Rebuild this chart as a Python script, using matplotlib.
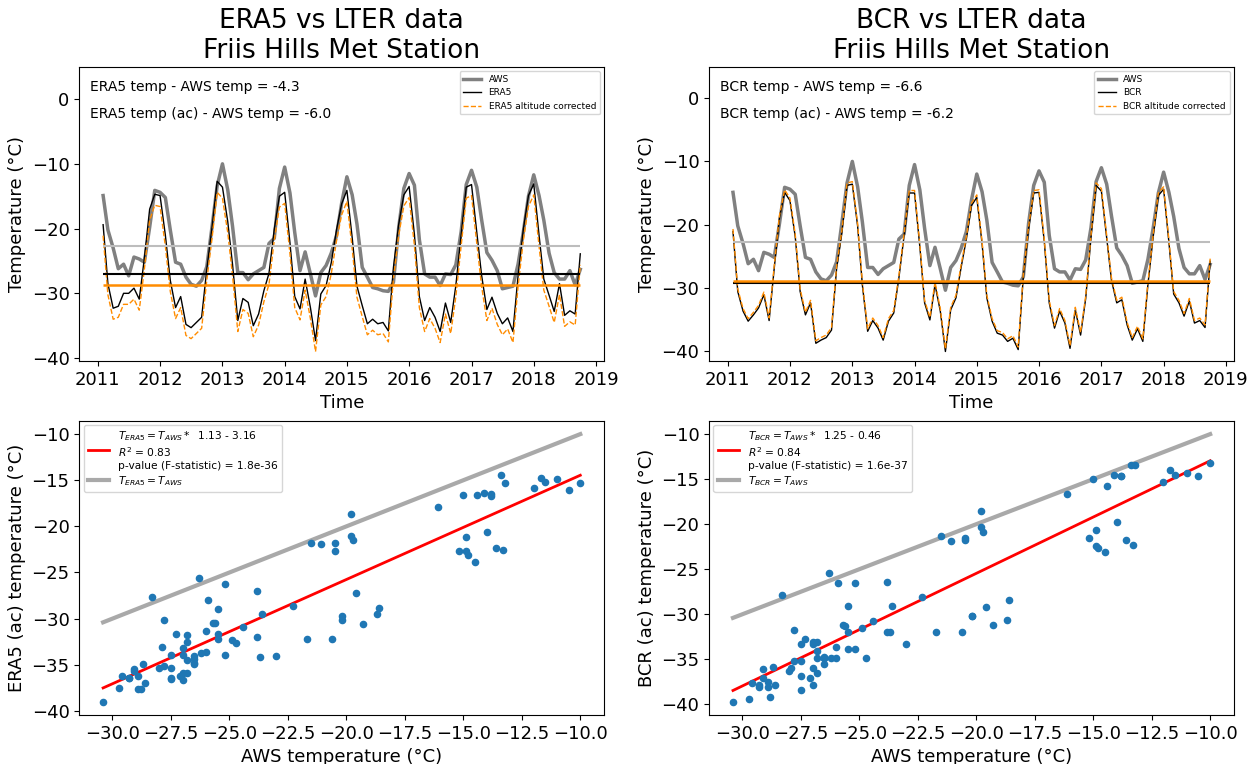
import matplotlib
matplotlib.use("Agg")
import matplotlib.pyplot as plt
import numpy as np
import pandas as pd

# monthly means, Feb 2011 - Oct 2018
dates = pd.date_range("2011-02-01", periods=93, freq="MS")

aws = [-14.9, -20.2, -23.0, -26.2, -25.5, -27.3, -24.4, -24.7, -25.2, -19.8, -14.1, -14.4,
       -15.2, -20.2, -25.2, -25.5, -27.5, -28.6, -28.9, -28.0, -25.9, -19.7, -13.4, -10.0,
       -14.0, -19.6, -26.8, -26.8, -27.9, -27.0, -26.5, -26.0, -22.3, -21.5, -13.8, -10.5,
       -14.5, -20.6, -26.5, -23.6, -27.0, -30.4, -26.8, -25.7, -23.8, -21.1, -16.1, -12.0,
       -14.8, -19.3, -26.0, -27.5, -29.1, -29.3, -29.6, -29.7, -28.3, -19.8, -13.8, -11.5,
       -13.3, -21.7, -27.0, -27.5, -27.5, -28.8, -27.0, -27.1, -25.6, -20.5, -13.2, -11.0,
       -13.6, -18.6, -23.7, -24.9, -26.5, -29.3, -29.1, -28.9, -25.5, -20.5, -15.0, -11.7,
       -14.9, -18.7, -23.8, -26.8, -27.8, -27.8, -26.5, -28.7, -26.3]

era5 = [-19.4, -28.5, -32.3, -32.0, -30.0, -30.0, -29.2, -30.9, -24.6, -17.0, -14.7, -14.9,
        -21.0, -28.0, -32.2, -30.5, -34.8, -35.3, -34.5, -33.7, -26.3, -19.8, -12.7, -13.6,
        -18.9, -25.5, -34.2, -30.8, -31.4, -35.0, -33.2, -29.6, -26.9, -20.1, -15.0, -14.4,
        -22.2, -30.5, -32.4, -27.8, -32.2, -37.3, -30.1, -28.8, -25.3, -20.2, -16.2, -14.1,
        -21.4, -28.9, -31.9, -34.7, -34.0, -34.7, -34.5, -35.8, -26.0, -19.3, -14.8, -13.5,
        -20.9, -30.5, -34.2, -32.2, -33.7, -35.9, -31.5, -34.5, -28.8, -21.0, -13.6, -13.2,
        -20.6, -27.2, -32.5, -30.6, -33.1, -34.7, -33.8, -35.9, -27.3, -20.1, -14.9, -13.1,
        -21.0, -27.8, -30.3, -32.8, -28.5, -33.4, -32.7, -33.2, -23.9]

era5_ac = [-21.1, -30.2, -34.0, -33.7, -31.7, -31.7, -30.9, -32.6, -26.3, -18.7, -16.4, -16.6,
           -22.7, -29.7, -33.9, -32.2, -36.5, -37.0, -36.2, -35.4, -28.0, -21.5, -14.4, -15.3,
           -20.6, -27.2, -35.9, -32.5, -33.1, -36.7, -34.9, -31.3, -28.6, -21.8, -16.7, -16.1,
           -23.9, -32.2, -34.1, -29.5, -33.9, -39.0, -31.8, -30.5, -27.0, -21.9, -17.9, -15.8,
           -23.1, -30.6, -33.6, -36.4, -35.7, -36.4, -36.2, -37.5, -27.7, -21.0, -16.5, -15.2,
           -22.6, -32.2, -35.9, -33.9, -35.4, -37.6, -33.2, -36.2, -30.5, -22.7, -15.3, -14.9,
           -22.3, -28.9, -34.2, -32.3, -34.8, -36.4, -35.5, -37.6, -29.0, -21.8, -16.6, -14.8,
           -22.7, -29.5, -32.0, -34.5, -30.2, -35.1, -34.4, -34.9, -25.6]

bcr = [-21.1, -30.6, -33.7, -35.3, -34.3, -33.2, -31.1, -35.2, -26.9, -18.9, -14.9, -16.2,
       -21.9, -30.6, -34.3, -32.4, -38.8, -38.3, -37.9, -36.7, -26.9, -21.3, -13.8, -13.6,
       -20.2, -29.6, -36.9, -35.2, -36.4, -38.3, -35.3, -34.0, -28.5, -21.7, -15.0, -15.0,
       -23.5, -32.4, -35.1, -29.5, -33.7, -40.1, -33.5, -31.6, -26.8, -22.3, -17.0, -15.7,
       -23.0, -31.6, -35.3, -37.2, -37.5, -38.5, -38.0, -39.8, -28.3, -20.7, -15.0, -14.9,
       -22.7, -32.4, -36.4, -33.7, -35.6, -39.6, -33.5, -37.5, -31.7, -22.1, -13.8, -14.7,
       -22.1, -28.8, -32.4, -31.9, -35.9, -38.3, -36.5, -38.5, -29.5, -21.9, -15.4, -14.4,
       -22.8, -31.0, -32.4, -34.5, -32.1, -35.6, -35.2, -36.3, -25.8]

bcr_ac = [-20.7, -30.2, -33.3, -34.9, -33.9, -32.8, -30.7, -34.8, -26.5, -18.5, -14.5, -15.8,
          -21.5, -30.2, -33.9, -32.0, -38.4, -37.9, -37.5, -36.3, -26.5, -20.9, -13.4, -13.2,
          -19.8, -29.2, -36.5, -34.8, -36.0, -37.9, -34.9, -33.6, -28.1, -21.3, -14.6, -14.6,
          -23.1, -32.0, -34.7, -29.1, -33.3, -39.7, -33.1, -31.2, -26.4, -21.9, -16.6, -15.3,
          -22.6, -31.2, -34.9, -36.8, -37.1, -38.1, -37.6, -39.4, -27.9, -20.3, -14.6, -14.5,
          -22.3, -32.0, -36.0, -33.3, -35.2, -39.2, -33.1, -37.1, -31.3, -21.7, -13.4, -14.3,
          -21.7, -28.4, -32.0, -31.5, -35.5, -37.9, -36.1, -38.1, -29.1, -21.5, -15.0, -14.0,
          -22.4, -30.6, -32.0, -34.1, -31.7, -35.2, -34.8, -35.9, -25.4]

# period means
aws_mean = -22.7
diff_era5, diff_era5_ac = -4.3, -6.0
diff_bcr, diff_bcr_ac = -6.6, -6.2

# linear fits of (ac) reanalysis against AWS
fit_era5 = dict(slope=1.13, intercept=-3.16, r2=0.83, p="1.8e-36")
fit_bcr = dict(slope=1.25, intercept=-0.46, r2=0.84, p="1.6e-37")

fig, axes = plt.subplots(2, 2, figsize=(12.56, 7.64), dpi=100)
fig.subplots_adjust(left=0.0631, right=0.9825, bottom=0.0641, top=0.9127,
                    wspace=0.2, hspace=0.203)


def timeseries(ax, name, model, model_ac, d, d_ac):
    ax.plot(dates, aws, color="grey", lw=2.5, label="AWS")
    ax.plot(dates, model, color="black", lw=1, label=name)
    ax.plot(dates, model_ac, color="darkorange", lw=1, ls="--",
            label=name + " altitude corrected")
    ax.hlines(aws_mean, dates[0], dates[-1], color="#bdbdbd", lw=1.5)
    ax.hlines(aws_mean + d, dates[0], dates[-1], color="black", lw=1.5)
    ax.hlines(aws_mean + d_ac, dates[0], dates[-1], color="darkorange", lw=1.8)
    ax.text(0.02, 0.93, f"{name} temp - AWS temp = {d}", transform=ax.transAxes,
            fontsize=10, va="center")
    ax.text(0.02, 0.84, f"{name} temp (ac) - AWS temp = {d_ac}", transform=ax.transAxes,
            fontsize=10, va="center")
    ax.legend(loc="upper right", fontsize=6.5)
    ax.set_title(f"{name} vs LTER data\nFriis Hills Met Station", fontsize=19)
    ax.set_xlabel("Time", fontsize=13)
    ax.set_ylabel("Temperature (°C)", fontsize=13)
    ax.tick_params(labelsize=13)
    ax.set_ylim(top=5)


def scatter(ax, name, model_ac, fit):
    x = np.array(aws)
    xl = np.array([x.min(), x.max()])
    ax.scatter(x, model_ac, s=20, color="tab:blue", zorder=3)
    lab = (rf"$T_{{{name}}} = T_{{AWS}}*$ " + f" {fit['slope']:.2f} - {abs(fit['intercept']):.2f}"
           + "\n" + rf"$R^2$ = {fit['r2']:.2f}" + f"\np-value (F-statistic) = {fit['p']}")
    ax.plot(xl, fit["slope"] * xl + fit["intercept"], color="red", lw=2, label=lab)
    ax.plot(xl, xl, color="darkgrey", lw=3, label=rf"$T_{{{name}}} = T_{{AWS}}$")
    ax.legend(loc="upper left", fontsize=7.7, labelspacing=0.3, borderaxespad=0.4)
    ax.set_xlabel("AWS temperature (°C)", fontsize=13)
    ax.set_ylabel(f"{name} (ac) temperature (°C)", fontsize=13)
    ax.tick_params(labelsize=13)


timeseries(axes[0, 0], "ERA5", era5, era5_ac, diff_era5, diff_era5_ac)
timeseries(axes[0, 1], "BCR", bcr, bcr_ac, diff_bcr, diff_bcr_ac)
scatter(axes[1, 0], "ERA5", era5_ac, fit_era5)
scatter(axes[1, 1], "BCR", bcr_ac, fit_bcr)

fig.savefig("out.png", dpi=100)
